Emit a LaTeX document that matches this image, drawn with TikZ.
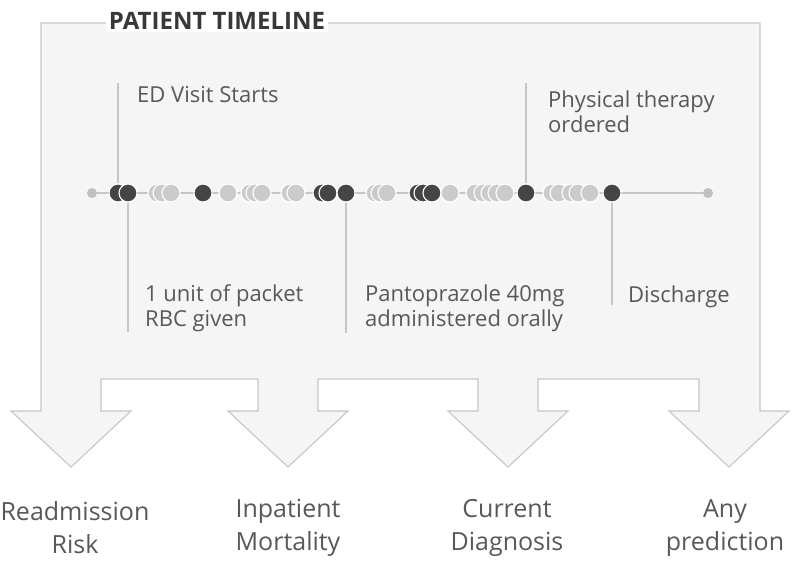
\documentclass[tikz,border=0pt]{standalone}
\usepackage{fontspec}
\setmainfont{Open Sans}
\usetikzlibrary{backgrounds}

\begin{document}
\begin{tikzpicture}[x=1pt,y=-1pt,line join=round,
  evt/.style={circle,inner sep=0pt,minimum size=18pt,draw=white,line width=1.1pt},
  tip/.style={circle,inner sep=0pt,minimum size=10pt,fill=enddot},
  stem/.style={draw=rim,line width=1.1pt},
  lbl/.style={anchor=base west,align=left,text=ink,inner sep=0pt,font=\fontsize{22}{24.5}\selectfont},
  outlbl/.style={align=center,text=ink,inner sep=0pt,font=\fontsize{25}{33}\selectfont}]
\definecolor{dk}{RGB}{69,69,69}\definecolor{lt}{RGB}{203,203,203}
\definecolor{enddot}{RGB}{192,192,192}\definecolor{panel}{RGB}{245,245,245}
\definecolor{rim}{RGB}{198,198,198}\definecolor{ink}{RGB}{88,88,88}
\useasboundingbox (0,0) rectangle (809,560);
% events on the time axis: x / colour / name
\node[tip] (start) at (92,193) {};
\node[tip] (finish) at (708,193) {};
\foreach \x/\c/\n in {118/dk/ed, 128/dk/rbc, 157/lt/a1, 162/lt/a2, 171/lt/a3, 203/dk/a4,
    228/lt/a5, 250/lt/a6, 255/lt/a7, 262/lt/a8, 290/lt/a9, 296/lt/a10, 322/dk/a11,
    328/dk/a12, 346/dk/panto, 375/lt/a13, 380/lt/a14, 387/lt/a15, 418/dk/a16,
    423/dk/a17, 432/dk/a18, 450/lt/a19, 475/lt/a20, 483/lt/a21, 490/lt/a22,
    497/lt/a23, 505/lt/a24, 526/dk/pt, 552/lt/a25, 559/lt/a26, 571/lt/a27,
    578/lt/a28, 590/lt/a29, 612/dk/dis}{
  \node[evt,fill=\c] (\n) at (\x,193) {};}
% panel with the four outgoing arrows (behind everything)
\begin{scope}[on background layer]
\draw[fill=panel,draw=rim,line width=1.1pt] (41,23) -- (760,23) -- (760,411) -- (789,411)
  -- (729,467) -- (669,411) -- (699,411) -- (699,379) -- (538,379) -- (538,411)
  -- (568,411) -- (508,467) -- (448,411) -- (478,411) -- (478,379) -- (318,379)
  -- (318,411) -- (348,411) -- (288,467) -- (228,411) -- (258,411) -- (258,379)
  -- (101,379) -- (101,411) -- (131,411) -- (71,467) -- (11,411) -- (41,411) -- cycle;
\draw[stem] (start) -- (finish);
\end{scope}
\node[fill=white,text=black!78,inner xsep=3pt,inner ysep=2pt,font=\fontsize{24}{28}\bfseries]
  (title) at (217,21) {PATIENT TIMELINE};
% callouts above and below the axis
\coordinate (edtop) at (118,83);
\coordinate (pttop) at (526,83);
\coordinate (rbcend) at (128,332);
\coordinate (pantoend) at (346,333);
\coordinate (disend) at (612,305);
\draw[stem] (edtop) -- (ed.north);
\draw[stem] (pttop) -- (pt.north);
\draw[stem] (rbc.south) -- (rbcend);
\draw[stem] (panto.south) -- (pantoend);
\draw[stem] (dis.south) -- (disend);
\node[lbl] (edlbl) at (137,102) {ED Visit Starts};
\node[lbl] (ptlbl) at (548,132) {Physical therapy\\ordered};
\node[lbl] (rbclbl) at (145,326) {1 unit of packet\\RBC given};
\node[lbl] (pantolbl) at (365,326) {Pantoprazole 40mg\\administered orally};
\node[lbl] (dislbl) at (628,302) {Discharge};
% predictions at the arrow tips
\node[outlbl] (readm) at (75,528) {Readmission\\Risk};
\node[outlbl] (mort) at (288,528) {Inpatient\\Mortality};
\node[outlbl] (diag) at (507,528) {Current\\Diagnosis};
\node[outlbl] (anyp) at (725,528) {Any\\prediction};
\end{tikzpicture}
\end{document}
